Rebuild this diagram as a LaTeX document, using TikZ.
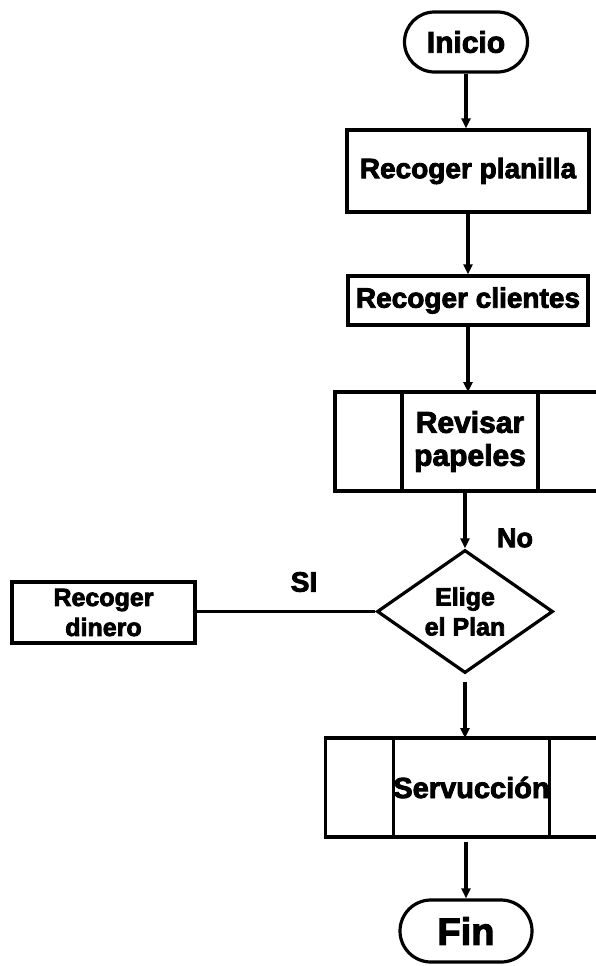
\documentclass[tikz,border=0pt]{standalone}
\usepackage{fontspec}
\setmainfont{Liberation Sans}[BoldFeatures={FakeBold=3}]
\usetikzlibrary{shapes.geometric,shapes.misc,arrows.meta}

\begin{document}
\begin{tikzpicture}[x=1pt,y=-1pt,line width=3.2pt,
  txt/.style 2 args={font=\bfseries\fontsize{#1}{#2}\selectfont,align=center,inner sep=0pt},
  term/.style={draw,rounded rectangle,inner sep=0pt},
  box/.style={draw,rectangle,inner sep=0pt},
  cell/.style={draw,rectangle,inner sep=0pt,outer sep=0pt},
  decision/.style={draw,diamond,shape aspect=1.43,inner sep=0pt},
  flow/.style={-{Triangle[length=10pt,width=9pt]}},
  plain/.style={-}]
\useasboundingbox (0,0) rectangle (595,966);

% terminals
\node[term,txt={30}{36},minimum width=123,minimum height=60] (ini) at (466,42) {Inicio};
\node[term,txt={38}{44},minimum width=132,minimum height=62] (fin) at (466,931) {Fin};

% process boxes
\node[box,txt={28}{33},minimum width=242,minimum height=82] (pla) at (468,171) {Recoger planilla};
\node[box,txt={28}{33},minimum width=240,minimum height=49] (cli) at (468,300.5) {Recoger clientes};
\node[box,txt={25}{30},minimum width=183,minimum height=61] (din) at (103.5,612.5) {Recoger\\dinero};

% predefined processes: middle cell holds the text, side cells drawn around it
\node[cell,txt={30}{33},minimum width=136,minimum height=99] (rev) at (470,441.5) {Revisar\\papeles};
\draw ([xshift=-67pt]rev.north west) rectangle ([xshift=82pt]rev.south east);
\node[cell,txt={29}{34},minimum width=137,minimum height=99] (ser) at (471.5,787.5) {Servucción};
\draw ([xshift=-68pt]ser.north west) rectangle ([xshift=82pt]ser.south east);

% decision
\node[decision,txt={25}{30},minimum width=176,minimum height=123] (dec) at (465,611.5) {Elige\\el Plan};

% branch labels
\node[txt={27}{32}] (no) at (515,538) {No};
\node[txt={28}{33}] (si) at (304,582) {SI};

% connectors
\draw[flow] (ini.south) -- (ini.south |- pla.north);
\draw[flow] (pla.south) -- (pla.south |- cli.north);
\draw[flow] (cli.south) -- (cli.south |- rev.north);
\draw[flow] (rev.south -| dec.north) -- (dec.north);
\draw[flow,shorten <=7pt] (dec.south) -- (dec.south |- ser.north);
\draw[flow,shorten <=5pt] (ser.south -| fin.north) -- (fin.north);
\draw[plain] (dec.west) -- (dec.west -| din.east);
\end{tikzpicture}
\end{document}
